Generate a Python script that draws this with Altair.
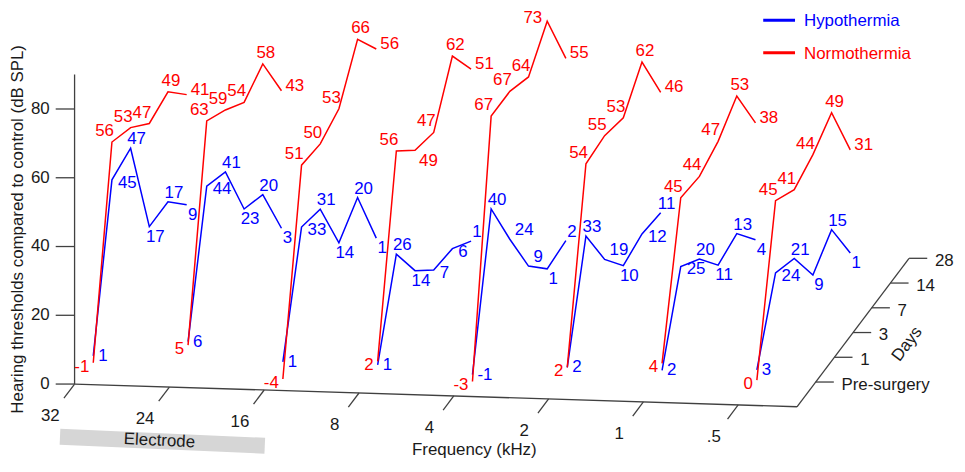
import altair as alt
import pandas as pd

# ---------------- data ----------------
frequencies = ["32", "24", "16", "8", "4", "2", "1", ".5"]
days = ["Pre-surgery", "1", "3", "7", "14", "28"]
series = ["Hypothermia", "Normothermia"]
series_colors = ["#0000ff", "#ff0000"]
y_ticks = [0, 20, 40, 60, 80]

hypothermia = [
    [1, 45, 47, 17, 17, 9],
    [6, 44, 41, 23, 20, 3],
    [1, 33, 31, 14, 20, 1],
    [1, 26, 14, 7, 6, 1],
    [-1, 40, 24, 9, 1, 2],
    [2, 33, 19, 10, 12, 11],
    [2, 25, 20, 11, 13, 4],
    [3, 24, 21, 9, 15, 1],
]
normothermia = [
    [-1, 56, 53, 47, 49, 41],
    [5, 63, 59, 54, 58, 43],
    [-4, 51, 50, 53, 66, 56],
    [2, 56, 49, 47, 62, 51],
    [-3, 67, 67, 64, 73, 55],
    [2, 54, 55, 53, 62, 46],
    [4, 45, 44, 47, 53, 38],
    [0, 45, 41, 44, 49, 31],
]

y_title = "Hearing thresholds compared to control (dB SPL)"
x_title = "Frequency (kHz)"
z_title = "Days"
band_text = "Electrode"

# ---------------- 3-D projection (layout) ----------------
OX, OY = 75.0, 385.0        # page position of (freq 0, depth 0, 0 dB)
GX, GY = 95.4, 3.0          # one frequency step
DX, DY = 18.8, -24.9        # one depth (day) step
VY = 3.46                   # one dB
G_END = 7.62                # right end of the floor
Z_TOP = 90                  # top of vertical axis (dB)


def px(g, d):
    return OX + GX * g + DX * d


def py(g, d, v=0.0):
    return OY + GY * g + DY * d - VY * v


FONT = "Liberation Sans"
FS = 17
INK = "#1a1a1a"
AXC = "#404040"

W, H = 955, 452
TOP = 8
xs = alt.Scale(domain=[8, 8 + W], nice=False, zero=False)
ys = alt.Scale(domain=[8, 8 + H], nice=False, zero=False, reverse=True)
X = lambda f="x": alt.X(f"{f}:Q", scale=xs, axis=None)
Y = lambda f="y": alt.Y(f"{f}:Q", scale=ys, axis=None)
col = alt.Color("series:N", scale=alt.Scale(domain=series, range=series_colors), legend=None)

# ---------------- data points + label placement ----------------
pts, labs = [], []
for s_name, table in zip(series, [hypothermia, normothermia]):
    for g, row in enumerate(table):
        yy = [py(g, i + 1, v) for i, v in enumerate(row)]
        for i, v in enumerate(row):
            x, y = px(g, i + 1), yy[i]
            pts.append(dict(series=s_name, freq=frequencies[g], day=days[i], idx=i, value=v, x=x, y=y))
            if s_name == "Normothermia":
                if i == 0:
                    a, b, dx, dy = "right", "middle", -4, 4
                elif i <= 3:
                    if abs(y - yy[i - 1]) < 3:          # flat step: put it under the line
                        a, b, dx, dy = "left", "top", 4, 3
                    else:
                        a, b, dx, dy = "right", "alphabetic", 2, -6
                elif i == 4:
                    if y - 6 - 13 < TOP:                # no room above: put it at the left
                        a, b, dx, dy = "right", "top", -5, TOP + 1 - y
                    else:
                        a, b, dx, dy = "center", "alphabetic", 3, -6
                else:
                    a, b, dx, dy = "left", "middle", 4, -5
            else:
                if i == 0:
                    a, b, dx, dy = "left", "middle", 5, 0
                else:
                    prev_y = yy[i - 1]
                    nxt = yy[i + 1] if i + 1 < len(row) else None
                    if nxt is None:
                        peak, valley = y < prev_y, y >= prev_y
                        desc = False
                    else:
                        peak = y < prev_y and y < nxt
                        valley = y > prev_y and y > nxt
                        desc = y > prev_y
                    if peak:
                        a, b, dx, dy = "center", "alphabetic", 6, -4
                    elif valley:
                        a, b, dx, dy = "center", "top", 6, 2
                    elif desc:
                        a, b, dx, dy = "left", "alphabetic", 5, -4
                    else:
                        a, b, dx, dy = "left", "middle", 6, 3
            labs.append(dict(series=s_name, text=str(v), lx=x + dx, ly=y + dy, align=a, baseline=b))

pts = pd.DataFrame(pts)
labs = pd.DataFrame(labs)

lines = alt.Chart(pts).mark_line(strokeWidth=1.5).encode(
    x=X(), y=Y(), color=col, detail="freq:N", order="idx:Q"
)

label_layers = []
for (a, b), sub in labs.groupby(["align", "baseline"]):
    label_layers.append(
        alt.Chart(sub).mark_text(align=a, baseline=b, font=FONT, fontSize=FS).encode(
            x=X("lx"), y=Y("ly"), text="text:N", color=col
        )
    )

# ---------------- axes (projected) ----------------
segs = []
segs.append(dict(x=px(0, 0), y=py(0, 0, 0), x2=px(0, 0), y2=py(0, 0, Z_TOP)))
for v in y_ticks:
    segs.append(dict(x=px(0, 0) - 19, y=py(0, 0, v), x2=px(0, 0), y2=py(0, 0, v)))
segs.append(dict(x=px(0, 0), y=py(0, 0), x2=px(G_END, 0), y2=py(G_END, 0)))
for g in range(len(frequencies)):
    segs.append(dict(x=px(g, 0), y=py(g, 0), x2=px(g, -0.57), y2=py(g, -0.57)))
segs.append(dict(x=px(G_END, 0), y=py(G_END, 0), x2=px(G_END, len(days)), y2=py(G_END, len(days))))
for d in range(1, len(days) + 1):
    segs.append(dict(x=px(G_END, d), y=py(G_END, d), x2=px(G_END, d) + 18.3, y2=py(G_END, d)))
segs = pd.DataFrame(segs)
axis_rules = alt.Chart(segs).mark_rule(color=AXC, strokeWidth=1.3).encode(
    x=X(), y=Y(), x2="x2:Q", y2="y2:Q"
)

ytl = pd.DataFrame(dict(t=[str(v) for v in y_ticks],
                        x=[px(0, 0) - 25] * len(y_ticks),
                        y=[py(0, 0, v) for v in y_ticks]))
ytl_layer = alt.Chart(ytl).mark_text(align="right", baseline="middle", font=FONT, fontSize=FS, color=INK).encode(
    x=X(), y=Y(), text="t:N")

ftl = pd.DataFrame(dict(t=frequencies,
                        x=[px(g, -1.3) for g in range(len(frequencies))],
                        y=[py(g, -1.3) for g in range(len(frequencies))]))
ftl_layer = alt.Chart(ftl).mark_text(align="center", baseline="middle", font=FONT, fontSize=FS, color=INK).encode(
    x=X(), y=Y(), text="t:N")

dtl = pd.DataFrame(dict(t=days,
                        x=[px(G_END, d) + 26 for d in range(1, len(days) + 1)],
                        y=[py(G_END, d) + 3 for d in range(1, len(days) + 1)]))
dtl_layer = alt.Chart(dtl).mark_text(align="left", baseline="middle", font=FONT, fontSize=FS, color=INK).encode(
    x=X(), y=Y(), text="t:N")

# electrode band
band = pd.DataFrame([dict(x=px(0.26, -2.1), y=py(0.26, -2.1), x2=px(2.44, -2.2), y2=py(2.44, -2.2))])
band_layer = alt.Chart(band).mark_rule(color="#d6d6d6", strokeWidth=16, strokeCap="butt").encode(
    x=X(), y=Y(), x2="x2:Q", y2="y2:Q")
band_txt = pd.DataFrame([dict(t=band_text, x=(band.x[0] + band.x2[0]) / 2 - 3, y=(band.y[0] + band.y2[0]) / 2 - 0.5)])
band_txt_layer = alt.Chart(band_txt).mark_text(align="center", baseline="middle", font=FONT, fontSize=FS,
                                               color=INK, angle=2.6).encode(x=X(), y=Y(), text="t:N")

# titles
yt = alt.Chart(pd.DataFrame([dict(t=y_title, x=px(0, 0) - 57, y=py(0, 0, 45))])).mark_text(
    angle=270, align="center", baseline="middle", font=FONT, fontSize=FS, color=INK).encode(x=X(), y=Y(), text="t:N")
xt = alt.Chart(pd.DataFrame([dict(t=x_title, x=px(4.66, -2.25), y=py(4.66, -2.25) - 4)])).mark_text(
    align="center", baseline="middle", font=FONT, fontSize=FS, color=INK).encode(x=X(), y=Y(), text="t:N")
zt = alt.Chart(pd.DataFrame([dict(t=z_title, x=px(G_END, 3.5) + 45, y=py(G_END, 3.5) + 24)])).mark_text(
    angle=307, align="center", baseline="middle", font=FONT, fontSize=FS, color=INK).encode(x=X(), y=Y(), text="t:N")

# legend
LX0, LX1, LTX, LY0, LDY = 768, 800, 809, 19, 32.5
leg = pd.DataFrame(dict(series=series,
                        x=[LX0] * 2, x2=[LX1] * 2, tx=[LTX] * 2,
                        y=[LY0 + k * LDY for k in range(2)]))
leg_lines = alt.Chart(leg).mark_rule(strokeWidth=3).encode(x=X(), x2="x2:Q", y=Y(), color=col)
leg_text = alt.Chart(leg).transform_calculate(ty="datum.y + 1").mark_text(
    align="left", baseline="middle", font=FONT, fontSize=FS).encode(
    x=X("tx"), y=Y("ty"), text="series:N", color=col)

chart = alt.layer(
    band_layer, axis_rules, lines, *label_layers,
    ytl_layer, ftl_layer, dtl_layer, band_txt_layer, yt, xt, zt, leg_lines, leg_text
).properties(
    width=W, height=H, padding=0, autosize=alt.AutoSizeParams(type="none")
).configure_view(stroke=None)

chart.save("out.html", embed_options={"renderer": "svg", "actions": False})
